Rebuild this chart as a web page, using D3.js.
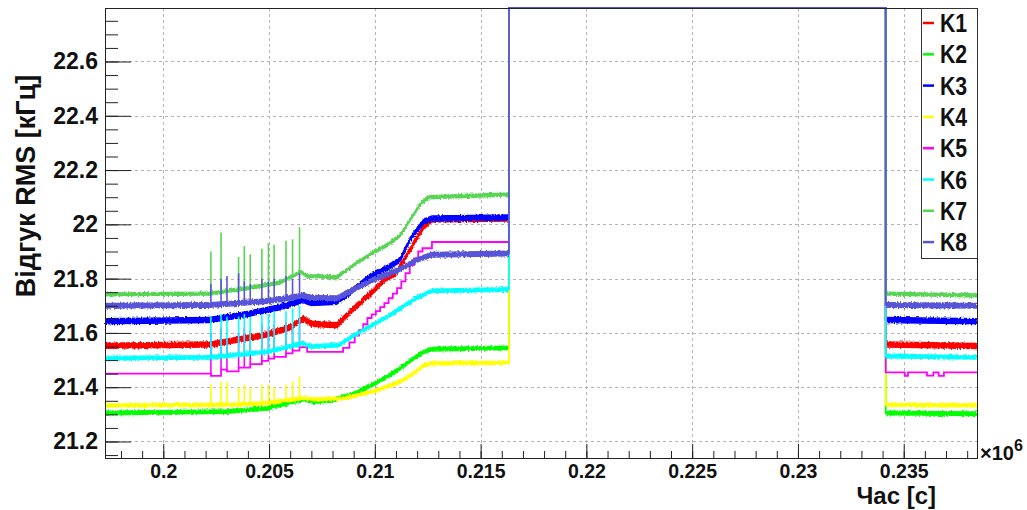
<!DOCTYPE html>
<html>
<head>
<meta charset="utf-8">
<script src="https://cdn.jsdelivr.net/npm/d3@7"></script>
<style>
  body { margin: 0; background: #fff; }
  text { font-family: "Liberation Sans", Arial, Helvetica, sans-serif; }
</style>
</head>
<body>
<svg id="chart" width="1027" height="510"></svg>
<script>
// Channel names and ROOT palette colours (kRed .. colour 9)
const seriesNames  = ["K1", "K2", "K3", "K4", "K5", "K6", "K7", "K8"];
const seriesColors = ["#ff0000", "#00ff00", "#0000ff", "#ffff00", "#ff00ff", "#00ffff", "#59d454", "#5954d8"];

// Axis ticks (time in units of 10^6 s, RMS response in kHz)
const xTickValues = [0.2, 0.205, 0.21, 0.215, 0.22, 0.225, 0.23, 0.235];
const xTickLabels = ["0.2", "0.205", "0.21", "0.215", "0.22", "0.225", "0.23", "0.235"];
const yTickValues = [21.2, 21.4, 21.6, 21.8, 22, 22.2, 22.4, 22.6];
const yTickLabels = ["21.2", "21.4", "21.6", "21.8", "22", "22.2", "22.4", "22.6"];

// Readout while the detector was saturated (far above the drawn range)
const OFF = 23.5;

// Smoothed trend of each channel: [time, RMS]
const k1 = [[0.19725,21.553],[0.2022,21.557],[0.2035,21.575],[0.2049,21.594],[0.2060,21.620],[0.2066,21.653],[0.2070,21.634],[0.2082,21.628],[0.2090,21.690],[0.2099,21.753],[0.2105,21.800],[0.2110,21.820],[0.2117,21.910],[0.2123,21.990],[0.2127,22.018],[0.21634,22.022],[0.21634,OFF],[0.23415,OFF],[0.23415,21.557],[0.23846,21.552]];
const k2 = [[0.19725,21.305],[0.2030,21.310],[0.2049,21.322],[0.2063,21.350],[0.2066,21.356],[0.2071,21.347],[0.2080,21.352],[0.2090,21.375],[0.2099,21.410],[0.2106,21.440],[0.2112,21.470],[0.2118,21.505],[0.2123,21.530],[0.2127,21.540],[0.21634,21.545],[0.21634,OFF],[0.23415,OFF],[0.23415,21.305],[0.23846,21.302]];
const k3 = [[0.19725,21.643],[0.2022,21.648],[0.2040,21.670],[0.2055,21.695],[0.2066,21.720],[0.2070,21.710],[0.2082,21.715],[0.2090,21.760],[0.2099,21.815],[0.2106,21.840],[0.2112,21.870],[0.2117,21.950],[0.2123,22.010],[0.2127,22.022],[0.21634,22.025],[0.21634,OFF],[0.23415,OFF],[0.23415,21.648],[0.23846,21.643]];
const k4 = [[0.19725,21.333],[0.2030,21.335],[0.2049,21.341],[0.2066,21.360],[0.2072,21.355],[0.2085,21.358],[0.2099,21.384],[0.2112,21.420],[0.2118,21.450],[0.2123,21.480],[0.2127,21.488],[0.21634,21.490],[0.21634,OFF],[0.23415,OFF],[0.23415,21.335],[0.23846,21.333]];
// K5 is a stepped readout: each level holds until the next time stamp
const k5 = [[0.19725,21.450],[0.20225,21.442],[0.20273,21.465],[0.20301,21.458],[0.20356,21.472],[0.20411,21.485],[0.20466,21.497],[0.20497,21.505],[0.20524,21.512],[0.20580,21.525],[0.20611,21.535],[0.20644,21.548],[0.20680,21.530],[0.20850,21.545],[0.20880,21.565],[0.20905,21.590],[0.20925,21.610],[0.20945,21.632],[0.20965,21.655],[0.20985,21.668],[0.21005,21.680],[0.21025,21.695],[0.21045,21.710],[0.21065,21.728],[0.21085,21.745],[0.21105,21.765],[0.21125,21.790],[0.21145,21.820],[0.21165,21.850],[0.21185,21.875],[0.21205,21.900],[0.21225,21.912],[0.21270,21.935],[0.21634,OFF],[0.23415,21.455],[0.23505,21.442],[0.23520,21.455],[0.23610,21.443],[0.23640,21.455],[0.23665,21.442],[0.23690,21.455],[0.23846,21.455]];
const k6 = [[0.19725,21.507],[0.2022,21.510],[0.2049,21.530],[0.2066,21.562],[0.2070,21.550],[0.2083,21.555],[0.2090,21.590],[0.2099,21.630],[0.2106,21.660],[0.2112,21.690],[0.2120,21.730],[0.2127,21.755],[0.21634,21.760],[0.21634,OFF],[0.23415,OFF],[0.23415,21.515],[0.23846,21.510]];
const k7 = [[0.19725,21.742],[0.2022,21.745],[0.2040,21.765],[0.2055,21.785],[0.2065,21.825],[0.2068,21.810],[0.2082,21.805],[0.2090,21.850],[0.2099,21.895],[0.2106,21.925],[0.2112,21.960],[0.2117,22.020],[0.2121,22.070],[0.2125,22.100],[0.21634,22.110],[0.21634,OFF],[0.23415,OFF],[0.23415,21.745],[0.23846,21.738]];
const k8 = [[0.19725,21.700],[0.2022,21.703],[0.2050,21.718],[0.2066,21.738],[0.2070,21.730],[0.2082,21.728],[0.2090,21.760],[0.2099,21.795],[0.2106,21.815],[0.2112,21.835],[0.2120,21.870],[0.2127,21.888],[0.21634,21.893],[0.21634,OFF],[0.23415,OFF],[0.23415,21.703],[0.23846,21.700]];

// Short disturbances seen simultaneously on several channels: time and peak value
const spikeTimes = [0.20225, 0.20273, 0.20301, 0.20356, 0.20383, 0.20411, 0.20466, 0.20497, 0.20524, 0.20580, 0.20611, 0.20644];
const k4Spikes = [21.41, 21.42, 21.42, 21.40, 21.41, 21.40, 21.41, 21.41, 21.40, 21.41, 21.42, 21.44];
const k5Spikes = [21.60, 21.62, 21.58, 21.60, 21.62, 21.61, 21.63, 21.62, 21.63, 21.64, 21.63, 21.65];
const k6Spikes = [21.66, 21.67, 21.66, 21.66, 21.67, 21.66, 21.67, 21.67, 21.68, 21.68, 21.69, 21.70];
const k7Spikes = [21.90, 21.97, null, 21.88, 21.92, 21.89, 21.91, 21.93, 21.925, 21.94, 21.945, 21.99];
const k8Spikes = [21.78, 21.80, 21.81, 21.82, 21.79, 21.78, 21.80, 21.79, 21.80, 21.81, 21.80, 21.82];

// Half width of the noise band around each trend (kHz); 0 = clean readout
const seriesNoise = [0.012, 0.009, 0.012, 0.008, 0, 0.009, 0.008, 0.011];

const seriesData   = [k1, k2, k3, k4, k5, k6, k7, k8];
const seriesSpikes = [null, null, null, k4Spikes, k5Spikes, k6Spikes, k7Spikes, k8Spikes];
const seriesStep   = [false, false, false, false, true, false, false, false];

// ---- layout ----
const frame = { left: 105, right: 977, top: 8, bottom: 458 };
const svg = d3.select("#chart");

const x = d3.scaleLinear().domain([0.197245, 0.238464]).range([frame.left, frame.right]);
const y = d3.scaleLinear().domain([21.1392, 22.7971]).range([frame.bottom, frame.top]).clamp(true);

// rough edge for the noisy bands
const defs = svg.append("defs");
const filt = defs.append("filter").attr("id", "rough")
  .attr("x", "-2%").attr("y", "-10%").attr("width", "104%").attr("height", "120%");
filt.append("feTurbulence").attr("type", "fractalNoise").attr("baseFrequency", "0.7 0.5")
  .attr("numOctaves", 1).attr("seed", 4).attr("result", "n");
filt.append("feDisplacementMap").attr("in", "SourceGraphic").attr("in2", "n")
  .attr("scale", 4).attr("xChannelSelector", "R").attr("yChannelSelector", "G");

// ---- grid ----
const grid = svg.append("g").attr("stroke", "#b4b4b4").attr("stroke-width", 1)
  .attr("stroke-dasharray", "3,3");
grid.selectAll("line.gx").data(xTickValues).join("line")
  .attr("x1", d => Math.round(x(d)) + 0.5).attr("x2", d => Math.round(x(d)) + 0.5)
  .attr("y1", frame.top).attr("y2", frame.bottom);
grid.selectAll("line.gy").data(yTickValues).join("line")
  .attr("y1", d => Math.round(y(d)) + 0.5).attr("y2", d => Math.round(y(d)) + 0.5)
  .attr("x1", frame.left).attr("x2", frame.right);

// ---- channels ----
function baseAt(data, t, step) {
  const i = d3.bisector(d => d[0]).right(data, t);
  if (step) return data[Math.max(0, i - 1)][1];
  const a = data[Math.max(0, i - 1)], b = data[Math.min(data.length - 1, i)];
  if (b[0] === a[0]) return a[1];
  return a[1] + (b[1] - a[1]) * (t - a[0]) / (b[0] - a[0]);
}

const plot = svg.append("g");
seriesData.forEach((data, k) => {
  const col = seriesColors[k];
  const g = plot.append("g");
  const hw = seriesNoise[k];
  if (hw > 0) {
    const band = d3.area().x(d => x(d[0])).y0(d => y(d[1] - hw)).y1(d => y(d[1] + hw));
    g.append("path").attr("d", band(data)).attr("fill", col).attr("filter", "url(#rough)");
  }
  const line = d3.line().x(d => x(d[0])).y(d => y(d[1]))
    .curve(seriesStep[k] ? d3.curveStepAfter : d3.curveLinear);
  g.append("path").attr("d", line(data)).attr("fill", "none")
    .attr("stroke", col).attr("stroke-width", 1.8);
  const sp = seriesSpikes[k];
  if (sp) {
    const pts = spikeTimes.map((t, i) => [t, sp[i]]).filter(d => d[1] !== null);
    g.selectAll("line.spike").data(pts).join("line")
      .attr("x1", d => x(d[0])).attr("x2", d => x(d[0]))
      .attr("y1", d => y(baseAt(data, d[0], seriesStep[k])))
      .attr("y2", d => y(d[1]))
      .attr("stroke", col).attr("stroke-width", 1.6);
  }
});

// ---- axes (ticks drawn inside the frame) ----
const xMinor = d3.range(198, 239).map(i => i / 1000);
const yMinor = d3.range(2115, 2280, 5).map(i => i / 100);

const xAxis = svg.append("g").attr("transform", `translate(0,${frame.bottom})`)
  .call(d3.axisBottom(x).tickValues(xTickValues).tickSize(-14).tickPadding(6)
    .tickFormat((d, i) => xTickLabels[i]));
svg.append("g").attr("transform", `translate(0,${frame.bottom})`)
  .call(d3.axisBottom(x).tickValues(xMinor).tickSize(-7).tickFormat(""));
const yAxis = svg.append("g").attr("transform", `translate(${frame.left},0)`)
  .call(d3.axisLeft(y).tickValues(yTickValues).tickSize(-26).tickPadding(7)
    .tickFormat((d, i) => yTickLabels[i]));
svg.append("g").attr("transform", `translate(${frame.left},0)`)
  .call(d3.axisLeft(y).tickValues(yMinor).tickSize(-13).tickFormat(""));

svg.selectAll(".domain").remove();
svg.selectAll(".tick line").attr("stroke", "#222");
xAxis.selectAll("text").attr("font-size", 19.5).attr("font-weight", "bold").attr("fill", "#111");
yAxis.selectAll("text").attr("font-size", 23).attr("font-weight", "bold").attr("fill", "#111");

// frame
svg.append("rect").attr("x", frame.left + 0.5).attr("y", frame.top + 0.5)
  .attr("width", frame.right - frame.left).attr("height", frame.bottom - frame.top)
  .attr("fill", "none").attr("stroke", "#222").attr("stroke-width", 1);

// axis titles
svg.append("text").attr("transform", "translate(35,186) rotate(-90)")
  .attr("text-anchor", "middle").attr("font-size", 27).attr("font-weight", "bold")
  .attr("fill", "#111").text("Відгук RMS [кГц]");
svg.append("text").attr("x", 936).attr("y", 504).attr("text-anchor", "end")
  .attr("font-size", 24).attr("font-weight", "bold").attr("fill", "#111").text("Час [с]");

// exponent of the time axis
const expo = svg.append("text").attr("x", 980).attr("y", 460)
  .attr("font-size", 20).attr("font-weight", "bold").attr("fill", "#111");
expo.append("tspan").text("\u00d710");
expo.append("tspan").attr("dy", -9).attr("font-size", 16).text("6");

// ---- legend ----
const lg = svg.append("g");
lg.append("rect").attr("x", 921.5).attr("y", 8.5).attr("width", 56).attr("height", 250)
  .attr("fill", "#fff").attr("stroke", "#333").attr("stroke-width", 1);
seriesNames.forEach((name, i) => {
  const yc = 23 + i * 31.3;
  lg.append("line").attr("x1", 923).attr("x2", 934).attr("y1", yc).attr("y2", yc)
    .attr("stroke", seriesColors[i]).attr("stroke-width", 2.5);
  lg.append("text").attr("transform", `translate(940,${yc}) scale(0.85,1)`)
    .attr("dy", "0.36em").attr("font-size", 25).attr("font-weight", "bold")
    .attr("fill", "#111").text(name);
});
</script>
</body>
</html>
